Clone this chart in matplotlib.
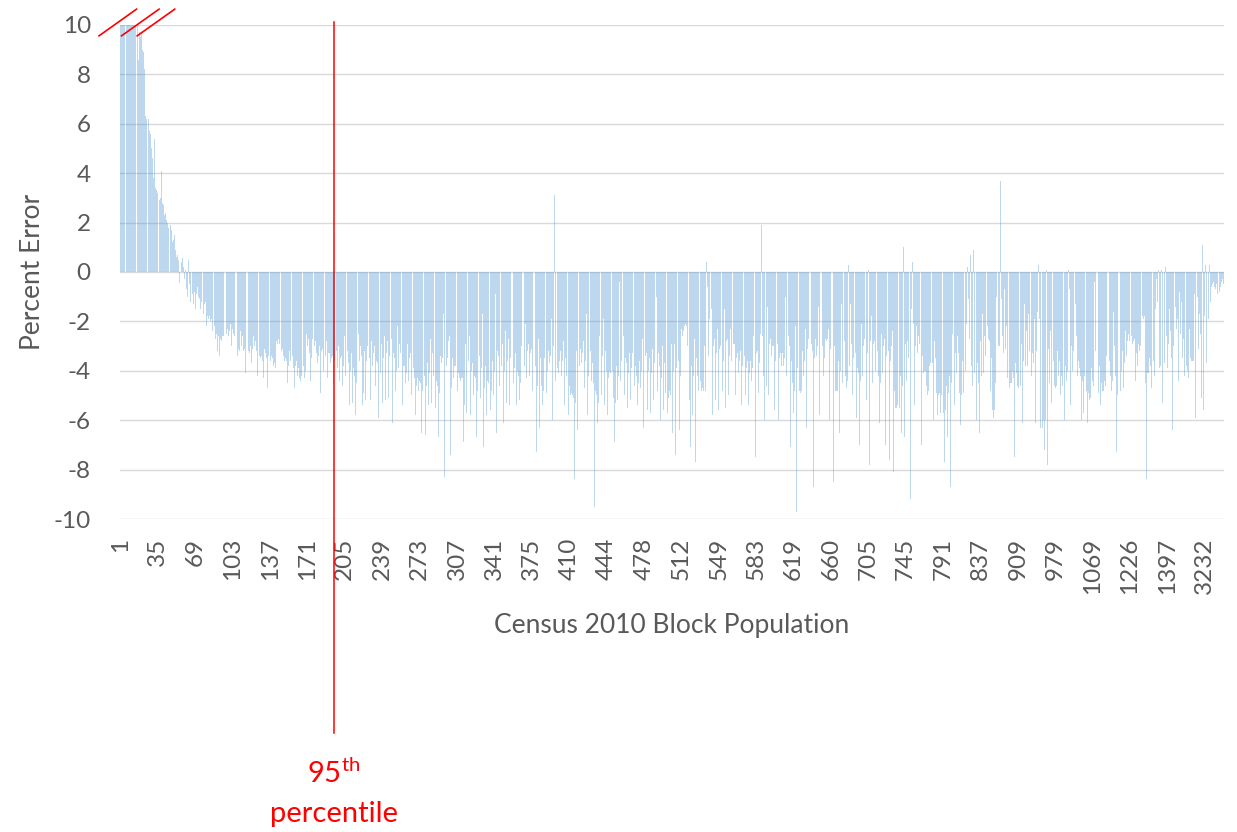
import numpy as np
import matplotlib.pyplot as plt

# percent error per bar, bars ordered by Census 2010 block population (left to right)
# first bars run off the top of the axis (axis is cut at 10, marked with red slashes)
err_000_096 = [52.0, 31.5, 24.0, 19.8, 17.2, 15.6, 14.3, 13.5, 12.9, 12.4, 11.8, 11.5, 11.2, 10.9, 10.6, 10.3,
               8.6, 9.7, 9.5, 9.7, 9.0, 8.9, 8.2, 6.3, 6.2, 6.2, 5.7, 5.6, 5.0, 4.6, 3.8, 5.4, 3.4, 3.3, 3.2, 2.9,
               3.0, 4.1, 2.8, 2.7, 2.3, 2.4, 2.1, 2.0, 1.8, 1.9, 1.7, 1.2, 1.3, 1.5, 0.9, 0.6, 0.7, 0.5, -0.45,
               0.4, 0.55, 0.2, -0.3, 0.1, -0.7, -1.0, 0.5, -0.5, -1.2, -0.9, -1.3, -0.8, -1.5, -0.9, -0.6, -1.0,
               -1.1, -1.5, -1.2, -1.7, -1.3, -1.2, -2.2, -1.8, -1.9, -1.8, -2.0, -1.9, -2.4, -2.2, -2.7, -2.5,
               -3.2, -2.6, -3.4, -2.7, -2.8, -2.6, -2.6, -2.8, -2.5]
err_097_197 = [-2.3, -2.6, -2.4, -2.1, -3.0, -2.3, -2.5, -2.6, -2.7, -3.4, -3.1, -3.2, -2.4, -3.0, -2.6,
               -3.2, -3.1, -4.1, -3.3, -3.2, -3.3, -3.0, -3.7, -3.1, -2.6, -3.0, -2.8, -3.2, -4.2, -3.4,
               -3.5, -3.4, -3.6, -4.3, -3.1, -3.3, -3.5, -4.7, -3.4, -3.6, -3.4, -3.5, -3.8, -3.7, -3.9,
               -2.8, -2.9, -2.7, -2.9, -3.2, -3.1, -3.4, -3.6, -3.5, -3.6, -4.5, -3.8, -3.2, -3.6, -3.4,
               -3.9, -4.7, -3.8, -3.6, -4.2, -3.9, -4.3, -4.4, -4.2, -3.8, -4.3, -4.0, -2.5, -3.0, -2.7,
               -3.3, -4.4, -3.5, -2.7, -3.0, -2.8, -3.3, -3.7, -3.4, -3.0, -4.9, -3.2, -3.1, -4.0, -3.4,
               -2.8, -4.3, -3.3, -3.3, -3.7, -3.5, -3.4, -4.5, -3.6, -3.2, -3.9]
err_198_298 = [-3.0, -4.4, -3.5, -3.4, -4.6, -3.8, -2.6, -4.2, -3.2, -3.7, -5.4, -4.0, -3.3, -5.3, -3.9,
               -4.2, -5.8, -4.5, -2.5, -3.6, -3.0, -3.4, -5.4, -4.9, -3.2, -5.2, -3.6, -3.0, -3.5, -5.2,
               -2.8, -3.8, -3.3, -3.0, -4.6, -3.6, -3.7, -5.9, -4.1, -2.9, -5.3, -3.5, -2.6, -5.2, -3.3,
               -2.8, -5.1, -3.4, -2.7, -6.1, -3.3, -3.5, -4.8, -4.0, -2.2, -3.9, -2.9, -3.3, -5.4, -3.8,
               -3.8, -4.5, -4.1, -2.9, -4.4, -3.5, -3.3, -5.0, -3.9, -4.3, -5.8, -4.6, -4.3, -4.8, -4.4,
               -4.5, -6.5, -4.8, -4.2, -6.6, -4.6, -3.7, -5.4, -4.1, -2.7, -5.3, -3.3, -4.2, -5.5, -4.4,
               -4.6, -6.7, -4.9, -3.4, -3.7, -3.5, -1.7, -8.3, -3.8, -3.5, -2.8]
err_299_399 = [-2.6, -7.4, -4.7, -3.5, -4.3, -3.8, -3.8, -4.8, -4.1, -4.3, -4.4, -4.3, -4.3, -6.9, -5.4,
               -2.9, -5.7, -3.6, -2.6, -5.8, -4.0, -3.7, -5.0, -4.2, -4.3, -6.7, -4.8, -3.4, -5.1, -3.9,
               -1.7, -7.1, -4.7, -3.8, -5.8, -4.4, -4.5, -5.6, -4.8, -3.6, -5.0, -4.0, -0.9, -6.5, -3.2,
               -3.4, -4.6, -3.8, -2.9, -6.1, -4.0, -2.4, -5.3, -3.6, -2.7, -5.4, -3.5, -3.6, -4.5, -3.9,
               -3.3, -5.4, -4.0, -4.2, -5.2, -4.5, -3.0, -5.0, -3.8, -2.1, -4.3, -3.2, -2.9, -4.2, -3.3,
               -3.1, -4.8, -3.7, -3.8, -7.3, -4.6, -2.7, -6.3, -3.5, -4.6, -5.4, -4.8, -3.5, -4.9, -4.0,
               -3.2, -3.7, -3.4, -1.9, -6.0, -3.0, 3.1, -4.4, -3.9, -4.1, -3.6]
err_400_500 = [-3.2, -4.2, -3.6, -2.8, -5.4, -3.5, -4.2, -5.8, -4.6, -5.0, -4.9, -5.0, -5.1, -8.4, -5.3,
               -3.2, -6.4, -3.8, -3.1, -3.7, -3.3, -2.8, -4.7, -3.6, -1.7, -5.8, -4.2, -3.2, -4.4, -3.7,
               -4.5, -9.5, -4.8, -5.0, -6.1, -5.3, -2.6, -5.0, -3.4, -1.9, -5.4, -3.2, -4.0, -5.8, -4.3,
               -4.0, -4.1, -4.0, -5.1, -6.9, -5.3, -3.8, -5.2, -4.2, -0.4, -4.4, -3.6, -2.6, -5.0, -3.5,
               -3.7, -5.5, -4.1, -3.3, -5.2, -3.9, -3.3, -4.6, -3.8, -4.2, -5.4, -4.5, -3.6, -4.7, -4.0,
               -2.7, -6.3, -3.4, -3.3, -5.6, -4.0, -3.5, -5.7, -4.1, -3.1, -5.2, -3.7, -1.0, -4.8, -3.3,
               -3.8, -6.0, -4.3, -3.0, -5.6, -3.7, -4.9, -5.7, -5.1, -4.8, -5.0]
err_501_601 = [-2.9, -6.5, -4.0, -2.9, -7.4, -3.9, -3.6, -6.4, -4.2, -2.3, -2.6, -2.4, -2.2, -2.1, -2.2,
               -3.0, -5.2, -7.1, -3.8, -5.8, -4.2, -2.7, -7.7, -3.5, -4.2, -4.8, -4.4, -4.8, -4.7, -4.8,
               -3.0, -4.8, 0.4, -0.6, -3.4, -1.9, -1.5, -5.8, -3.0, -2.7, -5.2, -3.3, -2.3, -5.6, -3.1,
               -3.0, -4.8, -3.6, -1.5, -5.5, -2.8, -2.7, -5.0, -3.4, -2.3, -3.6, -2.9, -2.9, -5.0, -3.5,
               -3.3, -4.1, -3.6, -3.2, -5.4, -3.8, -3.4, -5.0, -3.9, -3.6, -5.4, -4.1, -3.6, -4.4, -3.9,
               -2.6, -7.5, -3.3, -3.2, -4.9, -3.7, -2.5, 1.9, -2.6, -4.2, -6.0, -4.6, -1.4, -5.0, -2.9,
               -2.7, -3.4, -3.0, -3.0, -5.6, -3.6, -2.9, -6.0, -3.5, -3.3, -3.8]
err_602_702 = [-3.3, -3.8, -3.5, -1.0, -4.2, -2.6, -3.0, -7.1, -3.6, -4.5, -5.7, -4.8, -2.2, -9.7, -3.9,
               -4.8, -4.9, -4.8, -3.2, -4.2, -3.6, -2.3, -6.3, -3.1, -2.7, -3.1, -2.9, -3.2, -8.7, -3.5,
               -2.7, -3.4, -3.0, -1.4, -5.8, -3.2, -3.0, -4.2, -3.5, -2.7, -2.8, -2.7, -2.3, -6.0, -3.1,
               -1.1, -8.5, -3.0, -4.8, -4.8, -4.8, -3.6, -6.5, -4.0, -1.3, -4.5, -2.8, -4.2, -4.7, -4.4,
               0.3, -3.8, -1.3, -2.9, -5.0, -3.5, -3.3, -5.9, -3.9, -4.1, -7.0, -4.4, -2.1, -4.2, -3.0,
               -2.7, -5.2, -3.3, 0.1, -7.8, -2.8, -1.8, -4.5, -2.9, -2.8, -4.0, -3.2, -4.2, -6.1, -4.5,
               -2.5, -4.1, -3.0, -2.7, -7.0, -3.4, -3.2, -7.6, -3.6, -3.0, -2.4]
err_703_803 = [-8.1, -4.8, -5.5, -5.5, -5.4, -5.5, -4.2, -6.5, -4.6, 1.0, -6.7, -2.9, -4.4, -2.8, -3.5,
               -9.2, -1.5, 0.4, -2.1, -5.4, -3.0, -2.2, -3.3, -2.6, -2.9, -7.0, -3.4, -4.1, -4.0, -4.0,
               -4.6, -5.0, -4.8, -3.8, -3.7, -3.7, -6.0, -2.8, -3.5, -4.9, -5.8, -5.0, -4.9, -5.7, -5.0,
               -5.7, -7.7, -5.6, -4.6, -6.7, -4.9, -4.2, -8.7, -4.5, -2.5, -5.4, -3.3, -4.1, -2.6, -3.3,
               -4.9, -6.2, -5.0, -3.6, -4.9, -4.0, -2.1, 0.2, -1.1, -2.7, 0.7, -3.8, -4.6, 0.9, -4.1,
               -6.0, -3.7, -4.5, -6.5, -2.8, -4.2, -1.7, -4.1, -2.6, -3.4, -2.2, -2.7, -2.8, -4.8, -3.5,
               -5.6, -5.9, -5.6, -4.5, -1.0, -3.0, -3.0, 3.7, -1.1, -2.6, -3.3]
err_804_904 = [-0.7, -3.1, -2.2, -4.3, -4.7, -4.5, -4.5, -4.0, -4.3, -7.5, -3.7, -4.1, -4.6, -4.7, -4.6,
               -2.9, -6.1, -3.6, -1.3, -3.8, -2.4, -3.8, -1.7, -3.2, -4.2, -3.3, -3.7, -1.9, -6.1, -3.2,
               -1.6, 0.3, -1.9, -6.3, -6.3, -6.0, -7.2, -6.0, 0.1, -7.8, -3.1, -4.5, -2.4, -5.3, -3.6,
               -4.6, -4.7, -4.6, -3.2, -4.2, -3.6, -5.0, -4.2, -4.6, -6.0, -3.8, -4.4, -4.0, 0.1, -0.7,
               -5.4, -3.0, -4.0, -3.2, -1.3, -2.6, -4.2, -3.6, -3.9, -4.2, -6.0, -4.4, -5.7, -4.2, -4.8,
               -6.1, -4.9, -5.2, -5.1, -3.9, -4.4, -4.6, -0.4, -3.2, -3.1, -4.9, -3.8, -5.4, -4.5, -4.8,
               -4.8, -4.4, -4.6, -3.4, -3.8, -3.6, -4.2, -4.8, -4.4, -1.6, -3.0]
err_905_1003 = [-4.2, -7.3, -5.0, -3.6, -4.8, -4.0, -3.2, -4.7, -3.7, -2.4, -3.4, -2.8, -2.5, -2.8, -2.6,
                -2.9, -2.8, -2.7, -4.4, -3.3, -3.8, -2.9, -3.2, -3.0, -1.8, -1.9, -1.8, -4.5, -8.4, -4.1,
                -4.1, -3.5, -3.8, -4.7, -3.6, -4.2, -1.5, -0.3, -1.2, 0.1, -3.9, -3.8, 0.1, -5.3, -3.7,
                0.2, -2.6, -3.9, -2.9, -1.5, -2.4, -3.5, -6.4, -3.0, -1.4, -2.3, -1.9, -4.4, -0.8, -2.5,
                -1.2, -3.5, -2.7, -4.2, -3.8, -4.0, -4.3, -2.3, -3.5, -3.6, -3.6, -3.6, -0.9, -5.9, -1.0,
                -3.1, -1.7, -2.5, -5.1, 1.1, -5.6, -1.8, 0.3, -3.7, -1.9, 0.3, -1.2, -0.6, -0.5, -0.4,
                -0.6, -0.7, -0.5, -0.9, -0.8, -0.6, -0.4, -0.3, -0.5]

pct_error = np.concatenate([err_000_096, err_097_197, err_198_298, err_299_399, err_400_500,
                            err_501_601, err_602_702, err_703_803, err_804_904, err_905_1003])

# category (block population) shown under every 34th bar
tick_labels = ['1', '35', '69', '103', '137', '171', '205', '239', '273', '307', '341', '375',
               '410', '444', '478', '512', '549', '583', '619', '660', '705', '745', '791', '837',
               '909', '979', '1069', '1226', '1397', '3232']
label_every = 34
pct95_bar = 194  # bar where the 95th percentile falls

plt.rcParams['font.family'] = ['Lato', 'DejaVu Sans']
plt.rcParams['axes.unicode_minus'] = False
grey = '#595959'

fig = plt.figure(figsize=(12.37, 8.32), dpi=100)
ax = fig.add_axes([0.097, 0.3762, 0.8925, 0.5938])

x = np.arange(len(pct_error))
ax.bar(x, pct_error, width=0.9, color='#5B9BD5', alpha=0.4, linewidth=0, zorder=2)

ax.set_xlim(-0.5, len(pct_error) - 0.5)
ax.set_ylim(-10, 10)
ax.set_yticks(np.arange(-10, 11, 2))
ax.set_axisbelow(True)
ax.yaxis.grid(True, color='#D9D9D9', linewidth=1.0)
for s in ax.spines.values():
    s.set_visible(False)

ax.set_xticks(np.arange(len(tick_labels)) * label_every)
ax.set_xticklabels(tick_labels, rotation=90)
ax.tick_params(axis='x', length=0, pad=13.5, labelsize=17.5, labelcolor=grey)
ax.tick_params(axis='y', length=0, pad=21, labelsize=17.5, labelcolor=grey)

ax.set_xlabel('Census 2010 Block Population', fontsize=19, color=grey, va='center')
ax.xaxis.set_label_coords(0.5, -0.2146)
ax.set_ylabel('Percent Error', fontsize=19, color=grey, va='center')
ax.yaxis.set_label_coords(-0.079, 0.5)

# 95th percentile marker
xt = ax.get_xaxis_transform()
ax.plot([pct95_bar, pct95_bar], [1.006, -0.433], transform=xt, color='red', lw=1.1,
        clip_on=False, zorder=5)
ax.text(pct95_bar, -0.534, '95$^{\\mathregular{th}}$', transform=xt, ha='center', va='baseline',
        color='red', fontsize=21)
ax.text(pct95_bar, -0.614, 'percentile', transform=xt, ha='center', va='baseline',
        color='red', fontsize=21)

# axis break slashes at the top left
for x0 in [-0.019, 0.0014, 0.0156]:
    ax.plot([x0, x0 + 0.034], [0.978, 1.032], transform=ax.transAxes, color='red', lw=1.2,
            clip_on=False, zorder=6)

fig.savefig('out.png', dpi=100)
